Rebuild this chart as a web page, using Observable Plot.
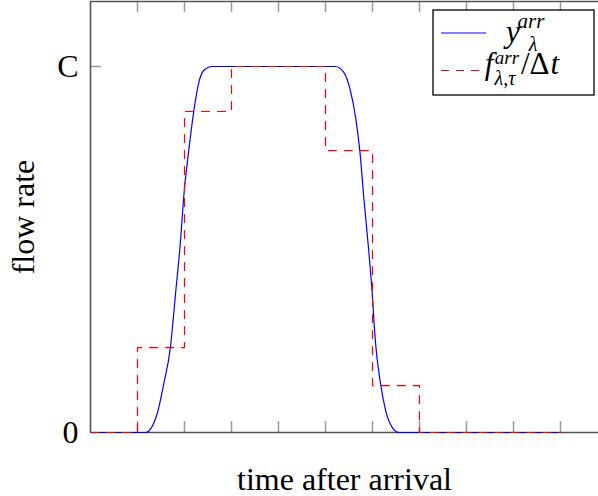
<!DOCTYPE html>
<html>
<head>
<meta charset="utf-8">
<script src="https://cdn.jsdelivr.net/npm/d3@7"></script>
<script src="https://cdn.jsdelivr.net/npm/@observablehq/plot@0.6"></script>
<style>
  html, body { margin: 0; padding: 0; background: #fff; }
  #chart { position: relative; width: 598px; height: 496px; overflow: hidden; }
</style>
</head>
<body>
<div id="chart"></div>
<script>
// Tick positions and labels
const xTicks = [1, 2, 3, 4, 5, 6, 7, 8, 9, 10];
const yTicks = [0, 1];
const yTickLabels = ["0", "C"];

// Step series f / Δt (value held from t until next t), in units of C
const stepT = [0, 1, 2, 3, 4, 5, 6, 7, 8, 9, 10];
const stepF = [0, 0.232, 0.877, 1, 1, 0.770, 0.128, 0, 0, 0, 0];

// Smooth arrival flow y, in units of C
const curveT = [0, 1.17, 1.42, 1.56, 1.70, 1.81, 1.91, 1.99, 2.09, 2.20, 2.30, 2.41, 2.59,
                5.21, 5.39, 5.53, 5.64, 5.73, 5.82, 5.92, 5.99, 6.06, 6.17, 6.28, 6.42, 6.56, 10];
const curveY = [0, 0, 0.052, 0.134, 0.232, 0.380, 0.516, 0.653, 0.770, 0.880, 0.954, 0.989, 1.0,
                1.0, 0.984, 0.934, 0.861, 0.770, 0.634, 0.497, 0.388, 0.251, 0.134, 0.060, 0.014, 0, 0];

const xDomain = [0, 11];
const yMax = 1.1776;

const steps = stepT.map((t, i) => ({t, v: stepF[i]}));
const curve = curveT.map((t, i) => ({t, v: curveY[i]}));

const W = 598, H = 496, mL = 90, mT = 1, mB = 64, mR = 0;
const frameH = H - mT - mB;
const fam = "'Liberation Serif', 'Times New Roman', serif";

const plot = Plot.plot({
  width: W,
  height: H,
  marginLeft: mL,
  marginRight: mR,
  marginTop: mT,
  marginBottom: mB,
  style: {fontFamily: fam, fontSize: "32px", background: "white", color: "#000"},
  x: {domain: xDomain, range: [mL, mL + 47 * 11]},
  y: {domain: [0, yMax]},
  marks: [
    Plot.tickX(xTicks, {x: d => d, stroke: "#999", strokeWidth: 1.5, insetTop: frameH - 11}),
    Plot.tickX(xTicks, {x: d => d, stroke: "#999", strokeWidth: 1.5, insetBottom: frameH - 11}),
    Plot.tickY(yTicks.slice(1), {y: d => d, stroke: "#999", strokeWidth: 1.5, insetRight: W - mL - 11}),
    Plot.ruleX([0], {stroke: "#555", strokeWidth: 1.6}),
    Plot.ruleY([0], {stroke: "#555", strokeWidth: 1.6}),
    Plot.ruleY([yMax], {stroke: "#555", strokeWidth: 1.6}),
    Plot.line(curve, {x: "t", y: "v", stroke: "#0000ff", strokeWidth: 1.2, curve: "monotone-x"}),
    Plot.line(steps, {x: "t", y: "v", stroke: "#ff0000", strokeWidth: 1.2, strokeDasharray: "8,8", curve: "step-after"}),
    Plot.axisX({ticks: [], tickSize: 0, label: "time after arrival", labelAnchor: "center", labelArrow: "none", labelOffset: 57}),
    Plot.axisY({ticks: yTicks, tickSize: 0, tickPadding: 12, tickFormat: d => yTickLabels[yTicks.indexOf(d)],
                label: "flow rate", labelAnchor: "center", labelArrow: "none", labelOffset: 79})
  ]
});

// Legend drawn inside the SVG
const svg = d3.select(plot);
const lg = svg.append("g").attr("class", "legend");
lg.append("rect").attr("x", 433).attr("y", 10).attr("width", 161).attr("height", 85)
  .attr("fill", "white").attr("stroke", "#000").attr("stroke-width", 1.3);
lg.append("line").attr("x1", 441).attr("x2", 486).attr("y1", 33).attr("y2", 33)
  .attr("stroke", "#0000ff").attr("stroke-width", 1.2);
lg.append("line").attr("x1", 441).attr("x2", 486).attr("y1", 70.5).attr("y2", 70.5)
  .attr("stroke", "#ff0000").attr("stroke-width", 1.2).attr("stroke-dasharray", "8,7");

function t(x, y, s, size, italic) {
  return lg.append("text").attr("x", x).attr("y", y)
    .style("font-family", fam).style("font-size", size + "px")
    .style("font-style", italic ? "italic" : "normal").text(s);
}
t(513, 42, "y", 31, true);
t(531, 28, "arr", 21, true);
t(533, 51, "λ", 20, true);
t(507, 64, "arr", 19, true);
t(489, 74, "f", 31, true);
t(505, 85, "λ,τ", 20, true);
const q = t(540, 74, "/Δ", 31, false);
q.append("tspan").style("font-style", "italic").attr("dx", 1).text("t");

document.getElementById("chart").appendChild(plot);
</script>
</body>
</html>
